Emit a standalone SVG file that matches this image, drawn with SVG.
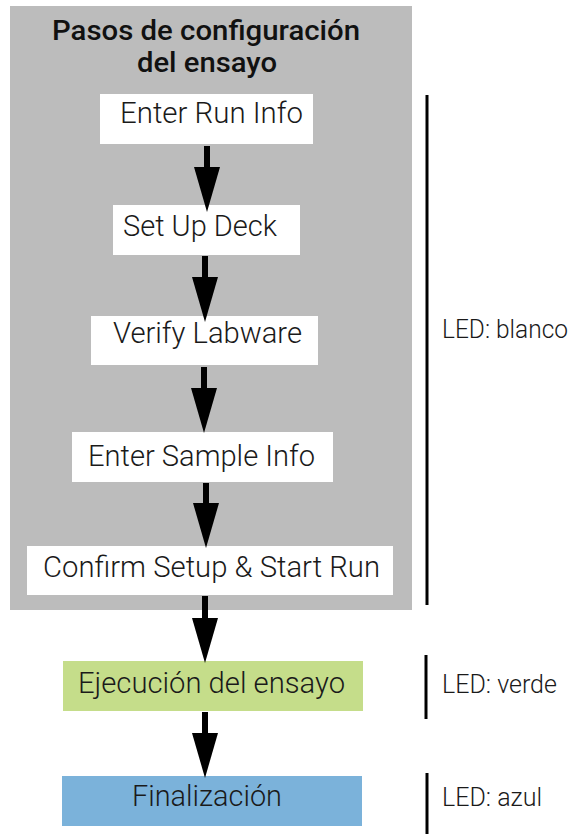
<svg xmlns="http://www.w3.org/2000/svg" width="581" height="834" viewBox="0 0 581 834">
  <defs>
    <marker id="ah" markerUnits="userSpaceOnUse" viewBox="0 -13 46 26" refX="0" refY="0" markerWidth="46" markerHeight="26" orient="auto" overflow="visible">
      <path d="M0,-13 L45,0 L0,13 Z" fill="#000"/>
    </marker>
  </defs>
  <style>
    .step { fill: #ffffff; }
    .lbl { font-family: Roboto, "Liberation Sans", sans-serif; font-weight: 300; font-size: 29px; fill: #1a1a1a; text-anchor: middle; }
    .led { font-family: Roboto, "Liberation Sans", sans-serif; font-weight: 300; font-size: 25px; fill: #1a1a1a; }
    .title { font-family: Roboto, "Liberation Sans", sans-serif; font-weight: 500; font-size: 28px; fill: #111; text-anchor: middle; }
    .conn { stroke: #000; stroke-width: 6; fill: none; marker-end: url(#ah); }
    .bar { stroke: #000; stroke-width: 3; }
  </style>
  <rect width="581" height="834" fill="#ffffff"/>

  <g id="setup-group">
    <rect x="10" y="6" width="402" height="604" fill="#bcbcbc"/>
    <text class="title" x="206" y="40" textLength="308" lengthAdjust="spacingAndGlyphs">Pasos de configuración</text>
    <text class="title" x="207" y="72" textLength="140" lengthAdjust="spacingAndGlyphs">del ensayo</text>
  </g>

  <g id="enter-run-info">
    <rect class="step" x="100" y="94" width="213" height="50"/>
    <text class="lbl" x="211.5" y="123" textLength="183" lengthAdjust="spacingAndGlyphs">Enter Run Info</text>
  </g>
  <g id="set-up-deck">
    <rect class="step" x="113" y="205" width="187" height="50"/>
    <text class="lbl" x="200" y="236" textLength="154" lengthAdjust="spacingAndGlyphs">Set Up Deck</text>
  </g>
  <g id="verify-labware">
    <rect class="step" x="91" y="316" width="227" height="49"/>
    <text class="lbl" x="207.5" y="343" textLength="189" lengthAdjust="spacingAndGlyphs">Verify Labware</text>
  </g>
  <g id="enter-sample-info">
    <rect class="step" x="72" y="432" width="261" height="50"/>
    <text class="lbl" x="201.5" y="466" textLength="227" lengthAdjust="spacingAndGlyphs">Enter Sample Info</text>
  </g>
  <g id="confirm-setup">
    <rect class="step" x="27" y="546" width="366" height="49"/>
    <text class="lbl" x="211.5" y="577" textLength="337" lengthAdjust="spacingAndGlyphs">Confirm Setup &amp; Start Run</text>
  </g>
  <g id="ejecucion">
    <rect x="63" y="661" width="300" height="50" fill="#c5dd8a"/>
    <text class="lbl" x="211.5" y="693" textLength="267" lengthAdjust="spacingAndGlyphs">Ejecución del ensayo</text>
  </g>
  <g id="finalizacion">
    <rect x="62" y="776" width="300" height="50" fill="#7bb2da"/>
    <text class="lbl" x="207" y="806" textLength="150" lengthAdjust="spacingAndGlyphs">Finalización</text>
  </g>

  <g id="connectors">
    <line class="conn" x1="207" y1="146" x2="207" y2="167"/>
    <line class="conn" x1="205" y1="256" x2="205" y2="277"/>
    <line class="conn" x1="204" y1="367" x2="204" y2="388"/>
    <line class="conn" x1="206" y1="483" x2="206" y2="503"/>
    <line class="conn" x1="205" y1="596" x2="205" y2="618"/>
    <line class="conn" x1="205" y1="712" x2="205" y2="733"/>
  </g>

  <g id="led-blanco">
    <line class="bar" x1="427" y1="95" x2="427" y2="605"/>
    <text class="led" x="442" y="338" textLength="126" lengthAdjust="spacingAndGlyphs">LED: blanco</text>
  </g>
  <g id="led-verde">
    <line class="bar" x1="426" y1="655" x2="426" y2="719"/>
    <text class="led" x="442" y="693">LED: verde</text>
  </g>
  <g id="led-azul">
    <line class="bar" x1="427" y1="773" x2="427" y2="834"/>
    <text class="led" x="442" y="806">LED: azul</text>
  </g>
</svg>
